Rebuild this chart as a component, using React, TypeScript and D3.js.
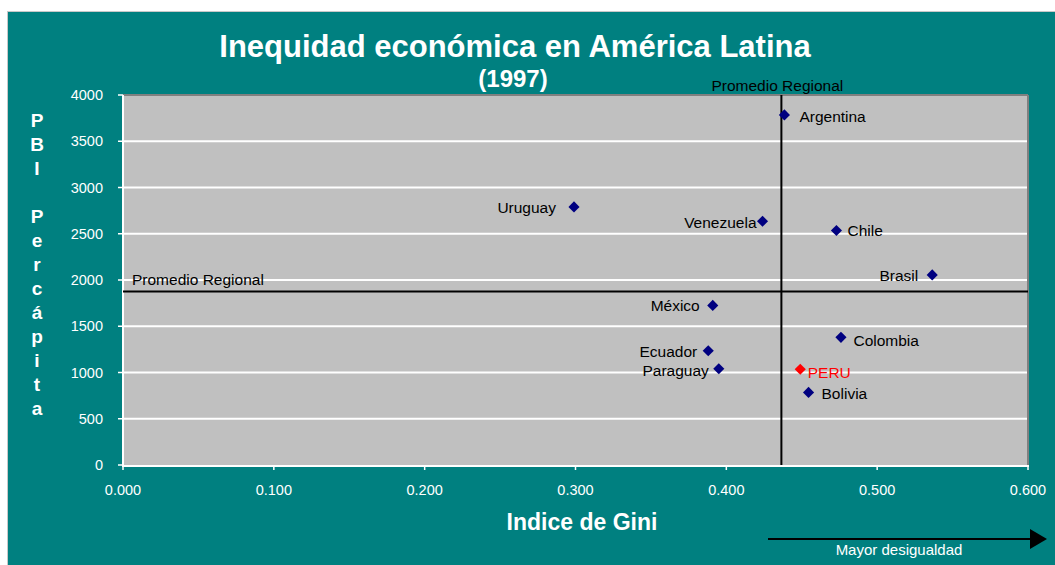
import React from "react";
import * as d3 from "d3";

const countries = ["Argentina", "Venezuela", "Chile", "Brasil", "Uruguay", "México", "Colombia", "Ecuador", "Paraguay", "PERU", "Bolivia"];
const gini = [0.4385, 0.424, 0.473, 0.5365, 0.299, 0.391, 0.476, 0.388, 0.395, 0.449, 0.4545];
const pbi = [3785, 2635, 2535, 2055, 2790, 1725, 1380, 1235, 1040, 1035, 785];
const highlight = ["PERU"];
const regionalGini = 0.4365;
const regionalPbi = 1875;
const yTicks = [0, 500, 1000, 1500, 2000, 2500, 3000, 3500, 4000];
const xTicks = [0, 0.1, 0.2, 0.3, 0.4, 0.5, 0.6];
const yTitleLetters = ["P", "B", "I", "", "P", "e", "r", "c", "á", "p", "i", "t", "a"];

// label placement offsets (annotation layout)
const labelDx = [15, -6, 11, -14, -18, -13, 12.5, -11, -10, 7.5, 13];
const labelDy = [7.5, 7, 5.5, 6, 6, 5.5, 9, 6, 7, 8.5, 6.5];

const W = 1055, H = 565;
const L = 123, R = 1028, T = 95, B = 465;
const FONT = "'Liberation Sans', Arial, Helvetica, sans-serif";

export default function App() {
  const x = d3.scaleLinear().domain([0, 0.6]).range([L, R]);
  const y = d3.scaleLinear().domain([0, 4000]).range([B, T]);
  const sym = d3.symbol().type(d3.symbolSquare).size(62)();
  const fmtX = d3.format(".3f");

  return (
    <svg width={W} height={H} style={{ position: "absolute", left: 0, top: 0, background: "#fff", fontFamily: FONT }}>
      <rect x={7.5} y={11.5} width={W} height={H} fill="#008080" stroke="#c8c8c8" strokeWidth={1} />
      {/* plot area */}
      <rect x={L} y={T} width={R - L} height={B - T} fill="#C0C0C0" />
      {yTicks.filter(t => t > 0).map(t => (
        <line key={"g" + t} x1={L} x2={R} y1={y(t)} y2={y(t)} stroke="#fff" strokeWidth={2} />
      ))}
      <line x1={L} x2={R} y1={T} y2={T} stroke="#808080" strokeWidth={2} />
      <line x1={R} x2={R} y1={T} y2={B} stroke="#808080" strokeWidth={2} />
      {/* axes */}
      <line x1={L} x2={L} y1={T} y2={B + 1} stroke="#fff" strokeWidth={2} />
      <line x1={L - 1} x2={R + 1} y1={B + 1} y2={B + 1} stroke="#fff" strokeWidth={2} />
      {yTicks.map(t => (
        <g key={"yt" + t}>
          <line x1={L - 5} x2={L} y1={y(t)} y2={y(t)} stroke="#fff" strokeWidth={1.5} />
          <text x={103} y={y(t) + 5} textAnchor="end" fill="#fff" fontSize={14.5}>{t}</text>
        </g>
      ))}
      {xTicks.map(t => (
        <g key={"xt" + t}>
          <line x1={x(t)} x2={x(t)} y1={B} y2={B + 5} stroke="#fff" strokeWidth={1.5} />
          <text x={x(t)} y={495} textAnchor="middle" fill="#fff" fontSize={14.5}>{fmtX(t)}</text>
        </g>
      ))}
      {/* regional averages */}
      <line x1={x(regionalGini)} x2={x(regionalGini)} y1={T} y2={B} stroke="#000" strokeWidth={2} />
      <line x1={L} x2={R} y1={y(regionalPbi)} y2={y(regionalPbi)} stroke="#000" strokeWidth={2} />
      <text x={x(regionalGini) - 4} y={91} textAnchor="middle" fill="#000" fontSize={15.5}>Promedio Regional</text>
      <text x={132} y={285} fill="#000" fontSize={15.5}>Promedio Regional</text>
      {/* points */}
      {countries.map((c, i) => {
        const col = highlight.includes(c) ? "#FF0000" : "#000080";
        const px = x(gini[i]);
        const py = y(pbi[i]);
        return (
          <g key={c}>
            <path d={sym} transform={`translate(${px},${py}) rotate(45)`} fill={col} />
            <text x={px + labelDx[i]} y={py + labelDy[i]} textAnchor={labelDx[i] < 0 ? "end" : "start"}
              fill={highlight.includes(c) ? "#FF0000" : "#000"} fontSize={15.5}>{c}</text>
          </g>
        );
      })}
      {/* titles */}
      <text x={515} y={57} textAnchor="middle" fill="#fff" fontSize={31} fontWeight="bold">Inequidad económica en América Latina</text>
      <text x={513} y={87} textAnchor="middle" fill="#fff" fontSize={24} fontWeight="bold">(1997)</text>
      {yTitleLetters.map((ch, i) => (
        <text key={"yl" + i} x={37} y={127 + i * 24} textAnchor="middle" fill="#fff" fontSize={19} fontWeight="bold">{ch}</text>
      ))}
      <text x={582} y={530} textAnchor="middle" fill="#fff" fontSize={23} fontWeight="bold">Indice de Gini</text>
      {/* arrow */}
      <line x1={768} x2={1031} y1={539} y2={539} stroke="#000" strokeWidth={2} />
      <path d="M1030,529 L1047,539 L1030,549 Z" fill="#000" />
      <text x={899} y={555} textAnchor="middle" fill="#fff" fontSize={15}>Mayor desigualdad</text>
    </svg>
  );
}
